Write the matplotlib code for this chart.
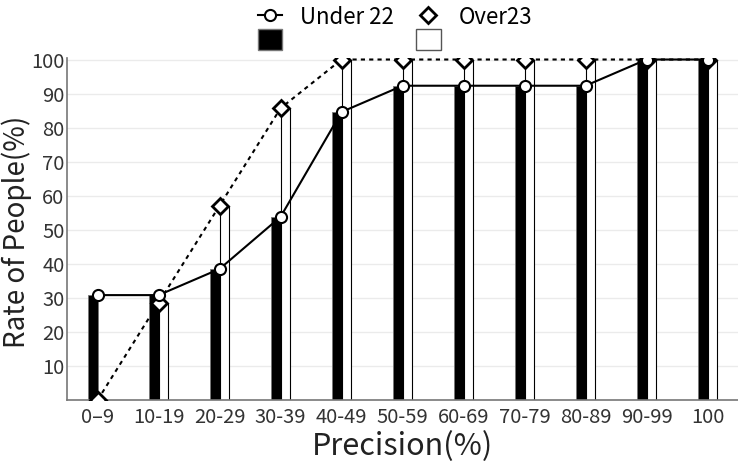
import numpy as np
import matplotlib.pyplot as plt
from matplotlib.patches import Patch
from matplotlib.lines import Line2D

plt.rcParams['font.family'] = ['Noto Sans CJK JP', 'DejaVu Sans']

categories = ['0\u20139', '10-19', '20-29', '30-39', '40-49', '50-59',
              '60-69', '70-79', '80-89', '90-99', '100']
under22 = [30.8, 30.8, 38.5, 53.8, 84.6, 92.3, 92.3, 92.3, 92.3, 100, 100]
over23 = [0, 28.6, 57.1, 85.7, 100, 100, 100, 100, 100, 100, 100]

x = np.arange(len(categories))
w = 0.155

fig = plt.figure(figsize=(7.38, 4.70), dpi=100)
ax = fig.add_axes([0.091, 0.149, 0.909, 0.728])

ax.bar(x - w / 2, under22, width=w, color='black', edgecolor='#777777', linewidth=0.6, zorder=2)
ax.bar(x + w / 2, over23, width=w, color='white', edgecolor='black', linewidth=0.8, zorder=2)

ax.plot(x, over23, linestyle=(0, (2, 2)), color='black', linewidth=1.5,
        marker='D', markersize=8, markerfacecolor='white', markeredgecolor='black',
        markeredgewidth=2, zorder=3)
ax.plot(x, under22, linestyle='-', color='black', linewidth=1.5,
        marker='o', markersize=8, markerfacecolor='white', markeredgecolor='black',
        markeredgewidth=1.5, zorder=4)

ax.set_xlim(-0.5, 10.5)
ax.set_ylim(0, 100.5)
ax.set_yticks(range(10, 101, 10))
ax.set_xticks(x)
ax.set_xticklabels(categories)
ax.tick_params(axis='both', length=0, labelsize=14.5, labelcolor='#333333')
ax.tick_params(axis='x', pad=5)
ax.tick_params(axis='y', pad=2)
ax.yaxis.grid(True, color='#ebebeb', linewidth=1, zorder=0)
ax.set_axisbelow(True)
for s in ['top', 'right']:
    ax.spines[s].set_visible(False)
for s in ['left', 'bottom']:
    ax.spines[s].set_color('#777777')
    ax.spines[s].set_linewidth(1.2)

ax.set_xlabel('Precision(%)', fontsize=22, color='#222222', labelpad=2)
ax.set_ylabel('Rate of People(%)', fontsize=20, color='#222222')
ax.yaxis.set_label_coords(-0.053, 0.49)

handles = [
    Line2D([], [], color='black', linewidth=1.5, marker='o', markersize=8,
           markerfacecolor='white', markeredgewidth=1.5),
    Patch(facecolor='black', edgecolor='#777777'),
    Line2D([], [], color='black', linewidth=0, marker='D', markersize=8,
           markerfacecolor='white', markeredgewidth=2),
    Patch(facecolor='white', edgecolor='#555555'),
]
labels = ['Under 22', ' ', 'Over23', ' ']
leg = fig.legend(handles, labels, ncol=2, loc='upper center', bbox_to_anchor=(0.535, 1.03),
                 frameon=False, fontsize=16, handlelength=1.1, handleheight=1.1,
                 columnspacing=1.0, labelspacing=0.0, handletextpad=0.8)

fig.savefig('out.png', dpi=100)
